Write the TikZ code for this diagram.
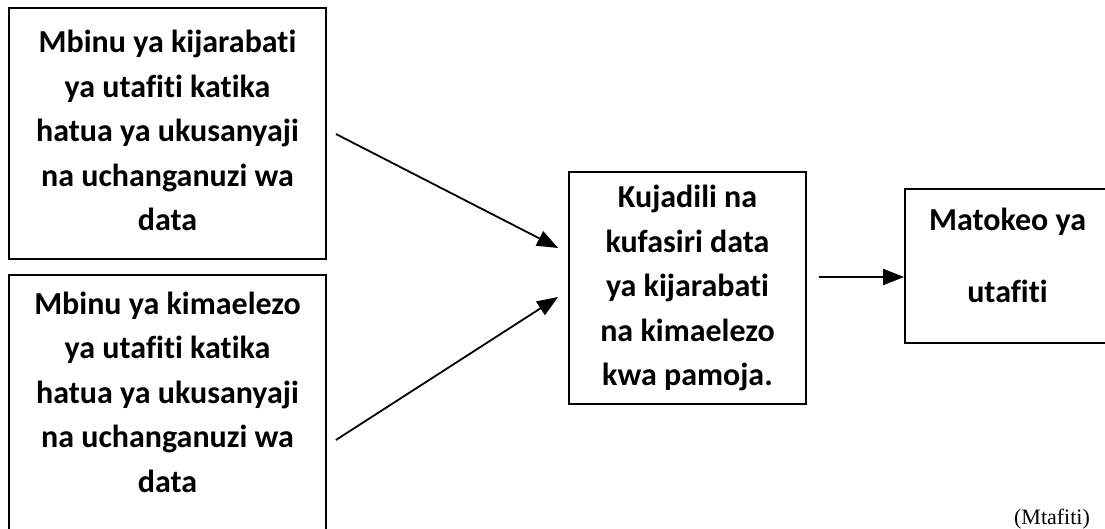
\documentclass[tikz,border=0pt]{standalone}
\usepackage{fontspec}
\setmainfont[Ligatures=NoCommon]{Carlito}
\newfontfamily\tnr{Liberation Serif}
\usetikzlibrary{arrows.meta,calc}

\begin{document}
\begin{tikzpicture}[x=1pt,y=-1pt,
  box/.style={draw,line width=1.8pt,rectangle,inner sep=0pt,align=center,
    font=\bfseries\fontsize{32}{44.5}\selectfont},
  arr/.style={-{Triangle[length=21pt,width=16pt]},line width=1.8pt}]
\useasboundingbox (0,0) rectangle (1105,529);
\clip (0,0) rectangle (1105,529);
\node[box,minimum width=317pt,minimum height=251pt,text depth=6pt] (box1) at (167.5,133.5)
  {Mbinu ya kijarabati\\ya utafiti katika\\hatua ya ukusanyaji\\na uchanganuzi wa\\data};
\node[box,minimum width=317pt,minimum height=270pt,text depth=36pt] (box2) at (167.5,410)
  {Mbinu ya kimaelezo\\ya utafiti katika\\hatua ya ukusanyaji\\na uchanganuzi wa\\data};
\node[box,minimum width=237pt,minimum height=232pt] (box3) at (687.5,288)
  {Kujadili na\\kufasiri data\\ya kijarabati\\na kimaelezo\\kwa pamoja.};
\node[box,minimum width=205pt,minimum height=154pt,text depth=22pt,
  font=\bfseries\fontsize{32}{72}\selectfont] (box4) at (1007.5,266)
  {Matokeo ya\\utafiti};
\node[font=\tnr\fontsize{22}{26}\selectfont,anchor=base] (src) at (1052,524) {(Mtafiti)};
\draw[arr] ($(box1.east)+(9,0.5)$) -- ($(box3.west)+(-10,-40)$);
\draw[arr] ($(box2.east)+(9,30)$) -- ($(box3.west)+(-10,9)$);
\draw[arr] ($(box3.east)+(12,-11)$) -- ($(box4.west)+(0,11)$);
\end{tikzpicture}
\end{document}
